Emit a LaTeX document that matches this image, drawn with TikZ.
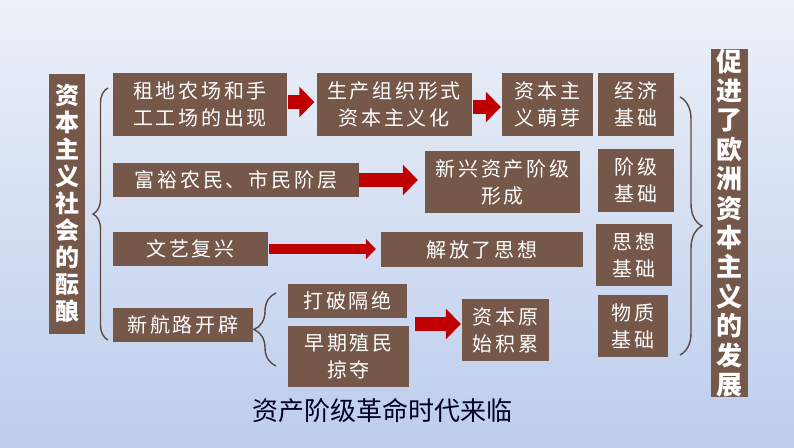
\documentclass[tikz,border=0pt]{standalone}
\usepackage{fontspec}
\setmainfont{Noto Sans CJK SC}
\newfontfamily\boxfont[LetterSpace=14]{Noto Sans CJK SC}
\usetikzlibrary{arrows.meta,decorations.pathreplacing}
\definecolor{bgtop}{HTML}{EDF1F9}
\definecolor{bgmid}{HTML}{B2C6EA}
\definecolor{bgbot}{HTML}{BCCDEC}
\definecolor{brownbox}{HTML}{76584A}
\definecolor{bracecol}{HTML}{5B4A44}
\definecolor{arrowred}{HTML}{C00000}
\tikzset{
  boxbrown/.style={fill=brownbox,text=white,inner sep=0pt,align=center,
    font=\boxfont\fontsize{20}{27}\selectfont},
  vbox/.style={fill=brownbox,text=white,inner sep=0pt,align=center,
    font=\bfseries\fontsize{24}{27}\selectfont},
  bigarrow/.style={draw=arrowred,line width=14pt,-{Triangle[length=15pt,width=30pt]}},
  thinarrow/.style={draw=arrowred,line width=10pt,-{Triangle[length=10pt,width=20pt]}},
  bracel/.style={draw=bracecol,line width=1.4pt,decorate,decoration={brace,amplitude=#1}}
}
\begin{document}
\begin{tikzpicture}[x=1pt,y=-1pt]
\shade[top color=bgtop,middle color=bgmid,bottom color=bgbot] (0,0) rectangle (794,447);
\useasboundingbox (0,0) rectangle (794,447);

% left and right titles
\node[vbox,minimum width=36pt,minimum height=260pt] (lv) at (67,203.5)
  {资\\本\\主\\义\\社\\会\\的\\酝\\酿};
\node[vbox,minimum width=37pt,minimum height=342pt,font=\bfseries\fontsize{26}{29.4}\selectfont] (rv) at (729.5,223)
  {促\\进\\了\\欧\\洲\\资\\本\\主\\义\\的\\发\\展};

% row 1
\node[boxbrown,minimum width=174pt,minimum height=63pt] (zd) at (200,104.5) {租地农场和手\\工工场的出现};
\node[boxbrown,minimum width=155pt,minimum height=63pt] (sc) at (394,104.5) {生产组织形式\\资本主义化};
\node[boxbrown,minimum width=91pt,minimum height=63pt] (mj) at (547.5,104.5) {资本主\\义萌芽};
\node[boxbrown,minimum width=76pt,minimum height=63pt] (jj) at (636,104.5) {经济\\基础};

% row 2
\node[boxbrown,minimum width=246pt,minimum height=34pt] (fy) at (236,180) {富裕农民、市民阶层};
\node[boxbrown,minimum width=155pt,minimum height=62pt] (xx) at (502.5,182) {新兴资产阶级\\形成};
\node[boxbrown,minimum width=76pt,minimum height=63pt] (jc) at (636,180.5) {阶级\\基础};

% row 3
\node[boxbrown,minimum width=155pt,minimum height=34pt] (wy) at (190.5,249) {文艺复兴};
\node[boxbrown,minimum width=202pt,minimum height=35pt] (jf) at (482,249.5) {解放了思想};
\node[boxbrown,minimum width=76pt,minimum height=62pt] (sx) at (634,255) {思想\\基础};

% row 4
\node[boxbrown,minimum width=140pt,minimum height=34pt] (xh) at (183,325) {新航路开辟};
\node[boxbrown,minimum width=119pt,minimum height=34pt] (dp) at (347.5,301) {打破隔绝};
\node[boxbrown,minimum width=121pt,minimum height=61pt] (zq) at (348.5,356.5) {早期殖民\\掠夺};
\node[boxbrown,minimum width=87pt,minimum height=62pt] (yj) at (505.5,330) {资本原\\始积累};
\node[boxbrown,minimum width=70pt,minimum height=62pt] (wz) at (633,326) {物质\\基础};

\node[text=black!85!blue,font=\fontsize{26}{30}\selectfont] (lm) at (382,411) {资产阶级革命时代来临};

% arrows
\draw[bigarrow,shorten <=1pt,shorten >=2pt] ([yshift=2.5pt]zd.east) -- ([yshift=2.5pt]sc.west);
\draw[bigarrow,shorten <=1pt,shorten >=1pt] ([yshift=-2.5pt]sc.east) -- ([yshift=-2.5pt]mj.west);
\draw[bigarrow,shorten >=7pt] (fy.east) -- (fy.east -| xx.west);
\draw[thinarrow,shorten <=1pt,shorten >=5pt] (wy.east) -- (wy.east -| jf.west);
\path ([yshift=6pt]yj.west) coordinate (yjin);
\draw[bigarrow,shorten <=6pt,shorten >=1pt] (zq.east |- yjin) -- (yjin);

% braces
\coordinate (lbb) at (108,340);
\coordinate (lbt) at (108,88);
\draw[bracel=15pt] (lbb) -- (lbt);
\coordinate (sbb) at (276,366);
\coordinate (sbt) at (276,293);
\draw[bracel=22pt] (sbb) -- (sbt);
\coordinate (rbt) at (680,97);
\coordinate (rbb) at (680,355);
\draw[bracel=22pt] (rbt) -- (rbb);
\end{tikzpicture}
\end{document}
